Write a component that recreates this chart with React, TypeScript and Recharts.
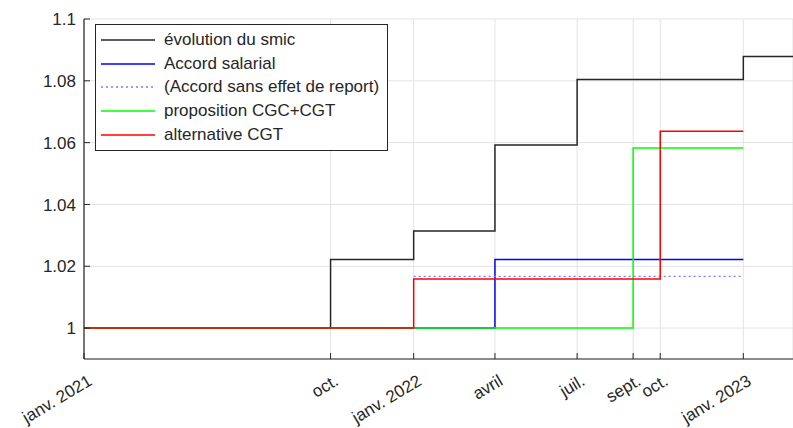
import { CartesianGrid, Line, LineChart, XAxis, YAxis } from "recharts";

// days counted from 1 Jan 2021
const TICK_DAYS = [0, 273, 365, 455, 546, 608, 638, 730];
const TICK_LABELS = ["janv. 2021", "oct.", "janv. 2022", "avril", "juil.", "sept.", "oct.", "janv. 2023"];
const Y_TICKS = [1, 1.02, 1.04, 1.06, 1.08, 1.1];

const SMIC_DAYS = [0, 273, 365, 455, 546, 730, 785];
const SMIC_VALUES = [1, 1.0222, 1.0314, 1.0592, 1.0804, 1.0879, 1.0879];

const ACCORD_DAYS = [0, 455, 730];
const ACCORD_VALUES = [1, 1.0222, 1.0222];

const SANS_REPORT_DAYS = [365, 730];
const SANS_REPORT_VALUES = [1.0167, 1.0167];

const CGC_DAYS = [0, 608, 730];
const CGC_VALUES = [1, 1.0583, 1.0583];

const ALT_DAYS = [0, 365, 638, 730];
const ALT_VALUES = [1, 1.0159, 1.0637, 1.0637];

const toPoints = (days: number[], values: number[]) => days.map((d, i) => ({ x: d, y: values[i] }));

const SERIES = [
  { key: "smic", name: "évolution du smic", color: "#262626", dash: undefined, data: toPoints(SMIC_DAYS, SMIC_VALUES) },
  { key: "accord", name: "Accord salarial", color: "#0000ff", dash: undefined, data: toPoints(ACCORD_DAYS, ACCORD_VALUES) },
  {
    key: "sans",
    name: "(Accord sans effet de report)",
    color: "#7b7bff",
    dash: "2 3",
    data: toPoints(SANS_REPORT_DAYS, SANS_REPORT_VALUES),
  },
  { key: "cgc", name: "proposition CGC+CGT", color: "#00ff00", dash: undefined, data: toPoints(CGC_DAYS, CGC_VALUES) },
  { key: "alt", name: "alternative CGT", color: "#ff0000", dash: undefined, data: toPoints(ALT_DAYS, ALT_VALUES) },
];

const FONT = "'Liberation Sans', Arial, sans-serif";
const TEXT = "#262626";

function XTick(props: any) {
  const { x, y, payload } = props;
  const label = TICK_LABELS[TICK_DAYS.indexOf(payload.value)] ?? "";
  const px = x + 9;
  const py = y + 25;
  return (
    <g>
      <line x1={x} x2={x} y1={y} y2={y - 6} stroke={TEXT} strokeWidth={1} />
      <text x={px} y={py} textAnchor="end" fill={TEXT} fontSize={17} fontFamily={FONT} transform={`rotate(-31 ${px} ${py})`}>
        {label}
      </text>
    </g>
  );
}

function YTick(props: any) {
  const { x, y, payload } = props;
  const v: number = payload.value;
  const label = v === 1 ? "1" : String(Number(v.toFixed(2)));
  return (
    <g>
      <line x1={x} x2={x + 6} y1={y} y2={y} stroke={TEXT} strokeWidth={1} />
      <text x={x - 8} y={y} dy="0.36em" textAnchor="end" fill={TEXT} fontSize={17} fontFamily={FONT}>
        {label}
      </text>
    </g>
  );
}

function LegendBox() {
  return (
    <div
      style={{
        position: "absolute",
        left: 95,
        top: 24,
        border: `1px solid ${TEXT}`,
        background: "#fff",
        padding: "3px 8px 3px 4px",
        fontFamily: FONT,
        fontSize: 17,
        color: TEXT,
        lineHeight: "23.7px",
      }}
    >
      {SERIES.map((s) => (
        <div key={s.key} style={{ display: "flex", alignItems: "center", whiteSpace: "nowrap" }}>
          <svg width={56} height={10} style={{ marginRight: 8 }}>
            <line x1={1} x2={55} y1={5} y2={5} stroke={s.color} strokeWidth={1.5} strokeDasharray={s.dash} />
          </svg>
          {s.name}
        </div>
      ))}
    </div>
  );
}

export default function App() {
  return (
    <div style={{ position: "absolute", left: 0, top: 0, width: 793, height: 428, background: "#fff" }}>
      <LineChart width={793} height={428} margin={{ top: 19, right: 0, bottom: 0, left: 0 }}>
        <CartesianGrid stroke="#e3e3e3" strokeWidth={1} />
        <XAxis
          type="number"
          dataKey="x"
          domain={[0, 785]}
          ticks={TICK_DAYS}
          interval={0}
          height={69}
          tickSize={0}
          tickMargin={0}
          tick={<XTick />}
          axisLine={{ stroke: TEXT, strokeWidth: 1.2 }}
          tickLine={false}
          allowDuplicatedCategory={false}
        />
        <YAxis
          type="number"
          domain={[0.99, 1.1]}
          ticks={Y_TICKS}
          width={84}
          tickSize={0}
          tickMargin={0}
          tick={<YTick />}
          axisLine={{ stroke: TEXT, strokeWidth: 1.2 }}
          tickLine={false}
          allowDataOverflow
        />
        {SERIES.map((s) => (
          <Line
            key={s.key}
            data={s.data}
            dataKey="y"
            name={s.name}
            type="stepAfter"
            stroke={s.color}
            strokeWidth={s.dash ? 1.3 : 1.5}
            strokeDasharray={s.dash}
            dot={false}
            activeDot={false}
            isAnimationActive={false}
          />
        ))}
      </LineChart>
      <LegendBox />
    </div>
  );
}
